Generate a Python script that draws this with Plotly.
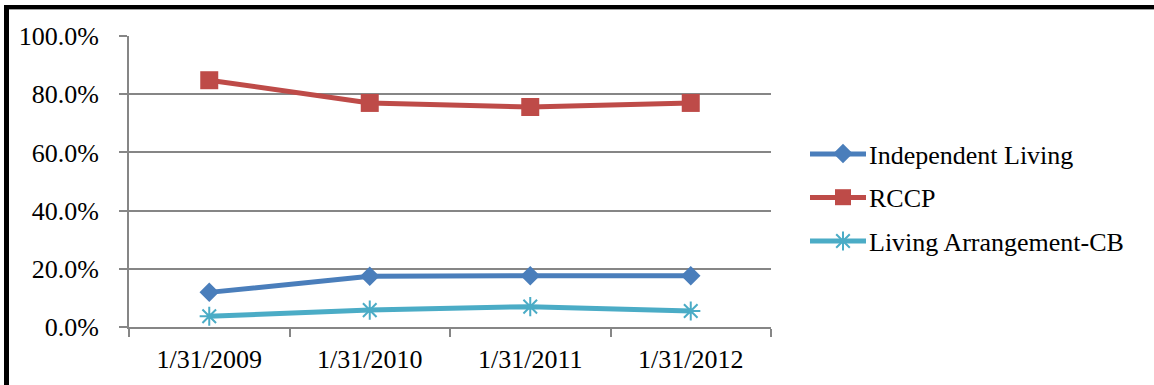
import plotly.graph_objects as go

dates = ["1/31/2009", "1/31/2010", "1/31/2011", "1/31/2012"]
independent_living = [0.119, 0.174, 0.176, 0.176]
rccp = [0.848, 0.770, 0.756, 0.770]
living_arrangement_cb = [0.037, 0.058, 0.070, 0.055]
series_names = ["Independent Living", "RCCP", "Living Arrangement-CB"]

FONT = "Liberation Serif, Times New Roman, serif"
BLUE, RED, CYAN = "#4A7EBB", "#BE4B48", "#4BACC6"

markers = [
    dict(symbol="diamond", size=15, color=BLUE),
    dict(symbol="square", size=18, color=RED),
    dict(symbol="asterisk-open", size=16, color=CYAN, line=dict(color=CYAN, width=2)),
]
colors = [BLUE, RED, CYAN]
values = [independent_living, rccp, living_arrangement_cb]

fig = go.Figure()
for name, vals, col, mk in zip(series_names, values, colors, markers):
    fig.add_trace(go.Scatter(
        x=dates, y=vals, name=name, mode="lines+markers", showlegend=False,
        line=dict(color=col, width=5), marker=mk))
# legend entries (marker only; key lines drawn as shapes below)
for i, (name, col, mk) in enumerate(zip(series_names, colors, markers)):
    fig.add_trace(go.Scatter(
        x=[None], y=[None], name=name, mode="markers", legendgroup=str(i),
        marker=mk, showlegend=True))

L, R, T, B = 129, 771, 36, 327
W, H = 1154, 385
def px(x):
    return (x - L) / (R - L)
def py(y):
    return (B - y) / (B - T)

shapes = [
    dict(type="line", xref="paper", yref="paper", x0=px(4), x1=px(1154),
         y0=py(7), y1=py(7), line=dict(color="black", width=4)),
    dict(type="line", xref="paper", yref="paper", x0=px(4), x1=px(1154),
         y0=py(9.5), y1=py(9.5), line=dict(color="#A0A0A0", width=1)),
    dict(type="line", xref="paper", yref="paper", x0=px(6.5), x1=px(6.5),
         y0=py(5), y1=py(385), line=dict(color="black", width=5)),
]
for yy, col in zip([154, 197.5, 241], colors):
    shapes.append(dict(type="line", xref="paper", yref="paper", x0=px(810), x1=px(866),
                       y0=py(yy), y1=py(yy), line=dict(color=col, width=5)))

fig.update_layout(
    width=W, height=H,
    margin=dict(l=L, r=W - R, t=T, b=H - B),
    paper_bgcolor="white", plot_bgcolor="white",
    font=dict(family=FONT, size=26, color="black"),
    showlegend=True,
    legend=dict(x=px(817), y=py(197.5), xanchor="left", yanchor="middle",
                font=dict(family=FONT, size=26, color="black"),
                tracegroupgap=7, itemwidth=42, bgcolor="rgba(0,0,0,0)"),
    xaxis=dict(type="category", showline=True, linecolor="#868686", linewidth=2,
               ticks="outside", tickson="boundaries", ticklen=8, tickcolor="#868686",
               tickwidth=2, showgrid=False, tickfont=dict(family=FONT, size=26),
               ticklabelstandoff=8, range=[-0.5, 3.5]),
    yaxis=dict(range=[0, 1], dtick=0.2, tickformat=".1%", showline=True,
               linecolor="#868686", linewidth=2, ticks="outside", ticklen=8,
               tickcolor="#868686", tickwidth=2, showgrid=True, gridcolor="#868686",
               gridwidth=2, zeroline=False, tickfont=dict(family=FONT, size=26),
               ticklabelstandoff=15),
    shapes=shapes,
)

fig.write_html("out.html", config={"displayModeBar": False},
               post_script="document.body.style.margin='0';document.body.style.padding='0';")
